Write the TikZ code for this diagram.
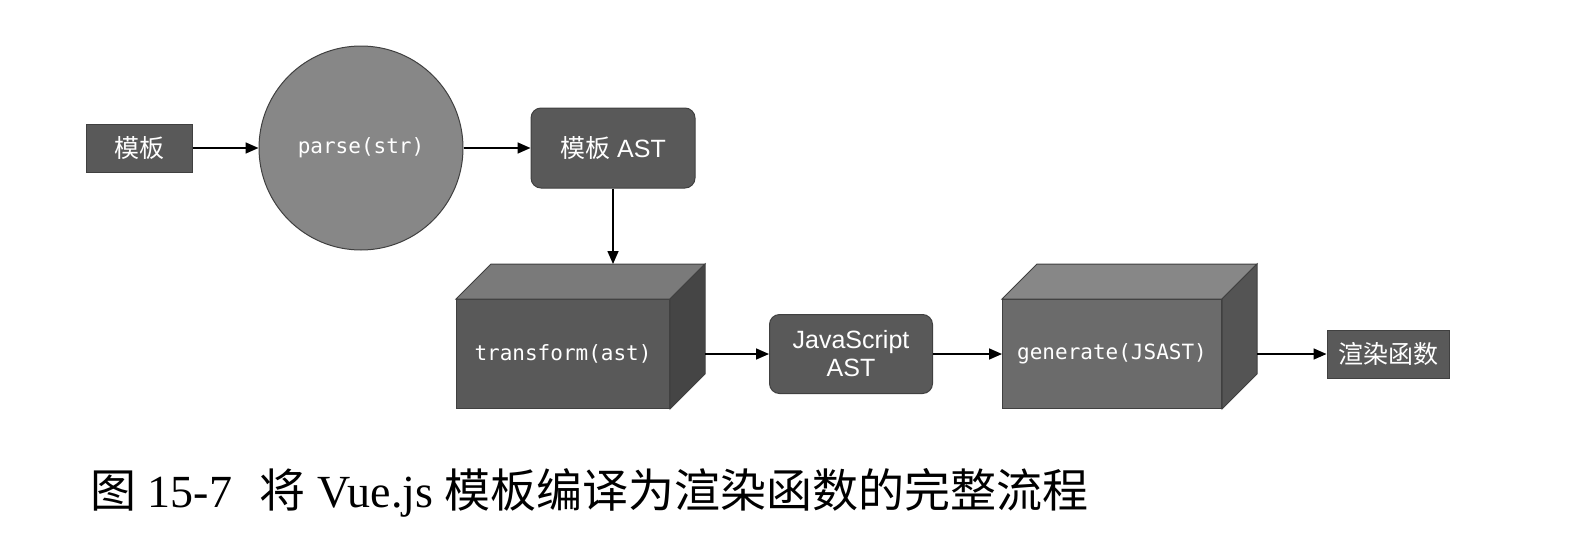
\documentclass[tikz,border=0pt]{standalone}
\usepackage{fontspec}
\setmainfont{Liberation Serif}
\setsansfont{Liberation Sans}
\setmonofont{DejaVu Sans Mono}
\newfontfamily\cjk{Noto Sans CJK SC}
\usetikzlibrary{arrows.meta}

\begin{document}
\begin{tikzpicture}[x=0.5pt, y=-0.5pt, >={Triangle[length=6.5pt,width=5.5pt]},
          flatbox/.style={rectangle, draw=black!75, fill=black!65, text=white, line width=0.5pt,
            font=\sffamily\fontsize{12.5}{15}\selectfont, align=center},
          roundbox/.style={flatbox, rounded corners=5pt},
          cubebox/.style={flatbox, font=\ttfamily\fontsize{10.5}{13}\selectfont},
          arrow/.style={->, line width=0.8pt}]

        \useasboundingbox (0,0) rectangle (1582,546);

        \node[flatbox, minimum width=53pt, minimum height=24pt]      (tpl)   at (139,148)  {\cjk 模板};
        \node[flatbox, circle, fill=black!47, minimum size=102pt,
              font=\ttfamily\fontsize{10.5}{13}\selectfont]          (parse) at (361,148)  {parse(str)};
        \node[roundbox, minimum width=82pt, minimum height=40pt]     (ast)   at (613,148)  {{\cjk 模板} AST};

        \node[cubebox, minimum width=106.5pt, minimum height=54.5pt] (trans) at (563,354)  {transform(ast)};
        \node[roundbox, minimum width=81.5pt, minimum height=39.5pt,
              font=\sffamily\fontsize{12.5}{14}\selectfont]          (jsast) at (851,354)  {JavaScript\\AST};
        \node[cubebox, fill=black!58, minimum width=109.5pt,
              minimum height=54.5pt]                                 (gen)   at (1112,354) {generate(JSAST)};
        \node[flatbox, minimum width=61pt, minimum height=24pt]      (render) at (1388,354) {\cjk 渲染函数};

        % top and side faces of the two boxes
        \foreach \cube/\topcol/\sidecol in {trans/black!52/black!73, gen/black!47/black!67} {
          \draw[draw=black!75, fill=\topcol, line width=0.5pt]
            (\cube.north west) -- ++(35,-35) -- ([shift={(35,-35)}]\cube.north east) -- (\cube.north east) -- cycle;
          \draw[draw=black!75, fill=\sidecol, line width=0.5pt]
            (\cube.north east) -- ++(35,-35) -- ([shift={(35,-35)}]\cube.south east) -- (\cube.south east) -- cycle;
        }

        \coordinate (transtop)  at ([shift={(35,-35)}]trans.north);
        \coordinate (transside) at ([shift={(35,0)}]trans.east);
        \coordinate (genside)   at ([shift={(35,0)}]gen.east);

        \draw[arrow] (tpl)       -- (parse);
        \draw[arrow] (parse)     -- (ast);
        \draw[arrow] (ast)       -- (ast |- transtop);
        \draw[arrow] (transside) -- (transside -| jsast.west);
        \draw[arrow] (jsast)     -- (jsast -| gen.west);
        \draw[arrow] (genside)   -- (genside -| render.west);

        \node[anchor=west, inner sep=0pt, font=\fontsize{23}{27}\selectfont] (caption) at (90,493)
          {{\cjk 图} 15-7\hspace{0.6em}{\cjk 将} Vue.js {\cjk 模板编译为渲染函数的完整流程}};

      \end{tikzpicture}
\end{document}
